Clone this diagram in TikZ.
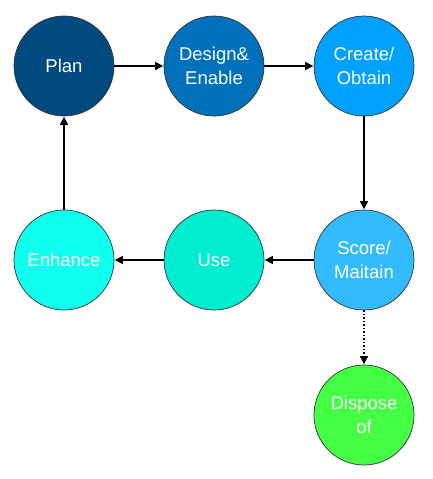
\documentclass[tikz,border=0pt]{standalone}
\usepackage{fontspec}
\setmainfont{Liberation Sans}
\usetikzlibrary{arrows.meta}
\definecolor{cplan}{HTML}{004A80}
\definecolor{cdesign}{HTML}{0070BA}
\definecolor{ccreate}{HTML}{00A0FF}
\definecolor{cscore}{HTML}{33BBFF}
\definecolor{cuse}{HTML}{00EED0}
\definecolor{cenh}{HTML}{11FFEE}
\definecolor{cdisp}{HTML}{44FF44}
\tikzset{
  stage/.style={circle, draw=black!80, line width=0.7pt, minimum size=100pt, inner sep=0pt,
    text=white, align=center, font=\fontsize{18.5}{24}\selectfont},
  conn/.style={line width=1.5pt, -{Triangle[length=8pt,width=8pt]}, shorten >=0.5pt},
}
\begin{document}
\begin{tikzpicture}[x=1pt,y=-1pt]
\useasboundingbox (0,0) rectangle (433,479);
\node[stage, fill=cplan] (plan) at (64,66) {Plan};
\node[stage, fill=cdesign] (design) at (214,66) {Design\&\\Enable};
\node[stage, fill=ccreate] (create) at (364,66) {Create/\\Obtain};
\node[stage, fill=cscore] (score) at (364,260) {Score/\\Maitain};
\node[stage, fill=cuse] (use) at (214,260) {Use};
\node[stage, fill=cenh] (enh) at (64,260) {Enhance};
\node[stage, fill=cdisp] (disp) at (364,415) {Dispose\\of};
\draw[conn] (plan) -- (design);
\draw[conn] (design) -- (create);
\draw[conn] (create) -- (score);
\draw[conn] (score) -- (use);
\draw[conn] (use) -- (enh);
\draw[conn] (enh) -- (plan);
\draw[conn, dotted] (score) -- (disp);
\end{tikzpicture}
\end{document}
